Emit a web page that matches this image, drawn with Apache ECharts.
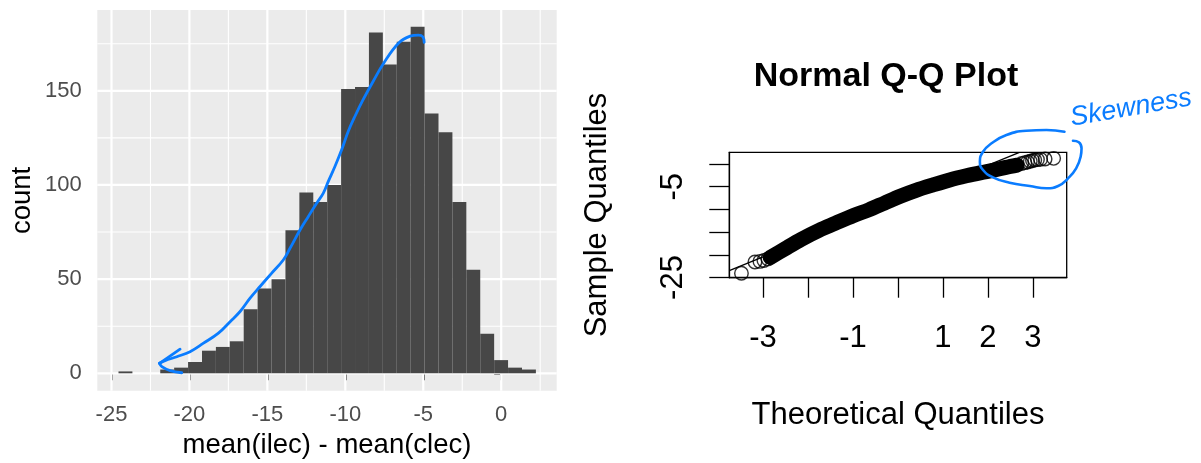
<!DOCTYPE html>
<html><head><meta charset="utf-8">
<script src="https://cdn.jsdelivr.net/npm/echarts@6/dist/echarts.min.js"></script>
<style>html,body{margin:0;padding:0;background:#fff}#c{width:1201px;height:463px}</style>
</head><body><div id="c"></div>
<script>
// ---------- Histogram data ----------
const binStart = -24.55;
const binWidth = 0.8925;
const binCounts = [1,0,0,2,3,6,12,14,17,34,45,50,76,96,91,100,151,152,181,164,176,184,138,128,91,55,21,7,3,2];
const histXTicks = [-25,-20,-15,-10,-5,0];
const histXMinor = [-22.5,-17.5,-12.5,-7.5,-2.5,2.5];
const histYTicks = [0,50,100,150];
const histYMinor = [25,75,125,175];

// hand-drawn annotation on histogram (data coordinates)
const annoCurveX = [-4.94,-5.03,-5.31,-5.84,-6.59,-7.55,-8.21,-8.85,-9.38,-9.81,-10.23,-10.66,-11.09,-11.41,-11.83,-12.37,-12.90,-13.54,-13.97,-14.72,-15.47,-16.11,-16.75,-17.39,-18.14,-19.10,-19.96,-20.81,-21.56,-21.92];
const annoCurveY = [175.7,178.7,179.6,179.0,175.2,164.5,155.1,145.4,136.5,128.5,118.8,109.9,101.9,95.7,90.4,83.3,76.2,66.5,60.3,53.2,46.1,39.9,32.8,27.4,21.3,16.0,11.5,8.8,6.7,5.3];
const annoTailX = [-21.92,-21.77,-21.24,-20.49];
const annoTailY = [5.3,3.5,1.4,0.3];
const annoHeadX = [-21.92,-20.6];
const annoHeadY = [5.3,12.8];

// ---------- Normal Q-Q plot data ----------
const qqBandX = [-2.84,-2.5,-2.15,-1.75,-1.4,-1.0,-0.65,-0.3,0.05,0.4,0.78,1.15,1.52,1.85,2.11,2.4,2.65];
const qqBandY = [-20.6,-18.6,-16.6,-14.6,-13.1,-11.4,-10.1,-8.6,-7.1,-5.8,-4.6,-3.5,-2.6,-1.9,-1.4,-0.75,-0.25];
const qqTailX = [-3.48,-3.18,-3.07,-2.98,-2.89,2.75,2.82,2.88,2.94,2.99,3.04,3.10,3.17,3.27,3.46];
const qqTailY = [-24.07,-21.6,-21.45,-21.25,-20.9,0.1,0.3,0.45,0.6,0.75,0.88,0.97,1.03,1.10,1.25];
const qqLineX = [-3.75,2.70];
const qqLineY = [-23.5,2.58];
const qqXTicks = [-3,-2,-1,0,1,2,3];
const qqXLabels = [-3,-1,1,2,3];
const qqYTicks = [-25,-20,-15,-10,-5,0];
const qqYLabels = [-25,-5];

// hand-drawn ellipse on Q-Q plot (Q-Q data coordinates)
const annoEllX = [3.70,3.30,2.85,2.41,2.08,1.89,1.82,1.89,2.11,2.48,2.93,3.30,3.56,3.78,3.96,4.06,4.08,4.02,3.89];
const annoEllY = [7.11,7.49,7.33,6.39,4.56,2.71,0.51,-1.32,-2.93,-4.12,-4.85,-5.35,-4.85,-3.15,-0.95,1.61,3.46,4.78,5.13];

const FONT = 'Liberation Sans';
const BLUE = '#0A7CFF';
const zip = (a, b) => a.map((v, i) => [v, b[i]]);

// Q-Q plot region and ranges
const QQ = {left: 729.3, top: 152.3, width: 337.4, height: 125.4, xmin: -3.75, xmax: 3.75, ymin: -25.05, ymax: 2.58};
// overlay (same scale as the Q-Q axes, larger extent) so the hand-drawn ellipse can leave the box
const OV = {xmax: 4.5, ymax: 8.5};
const pxX = QQ.width / (QQ.xmax - QQ.xmin);
const pxY = QQ.height / (QQ.ymax - QQ.ymin);
const ovWidth = (OV.xmax - QQ.xmin) * pxX;
const ovHeight = (OV.ymax - QQ.ymin) * pxY;
const ovTop = QQ.top + QQ.height - ovHeight;

const chart = echarts.init(document.getElementById('c'), null, {renderer: 'canvas'});

function vRender(color, width) {
  return function (params, api) {
    const x = api.coord([api.value(0), api.value(1)])[0];
    const cs = params.coordSys;
    return {type: 'line', shape: {x1: x, y1: cs.y, x2: x, y2: cs.y + cs.height}, style: {stroke: color, lineWidth: width}};
  };
}
function hRender(color, width) {
  return function (params, api) {
    const y = api.coord([api.value(0), api.value(1)])[1];
    const cs = params.coordSys;
    return {type: 'line', shape: {x1: cs.x, y1: y, x2: cs.x + cs.width, y2: y}, style: {stroke: color, lineWidth: width}};
  };
}

const histBars = binCounts.map((c, i) => [binStart + i * binWidth, binStart + (i + 1) * binWidth, c]);

const option = {
  animation: false,
  textStyle: {fontFamily: FONT},
  grid: [
    {left: 97.3, top: 10, width: 459.4, height: 380.7, show: true, backgroundColor: '#EBEBEB', borderWidth: 0, containLabel: false, outerBoundsMode: 'none'},
    {left: QQ.left, top: QQ.top, width: QQ.width, height: QQ.height, show: true, backgroundColor: 'transparent', borderColor: '#000', borderWidth: 1.3, containLabel: false, outerBoundsMode: 'none'},
    {left: QQ.left, top: ovTop, width: ovWidth, height: ovHeight, show: false, containLabel: false, outerBoundsMode: 'none'}
  ],
  xAxis: [
    {type: 'value', gridIndex: 0, min: -25.91, max: 3.56,
     axisLine: {show: false},
     axisTick: {show: true, length: 7, customValues: histXTicks, lineStyle: {color: '#333333', width: 2}},
     axisLabel: {show: true, customValues: histXTicks, margin: 13, color: '#4D4D4D', fontSize: 22, fontFamily: FONT},
     splitLine: {show: false}},
    {type: 'value', gridIndex: 1, min: QQ.xmin, max: QQ.xmax,
     axisLine: {show: true, onZero: false, lineStyle: {color: '#000', width: 1.3}},
     axisTick: {show: true, length: 20, customValues: qqXTicks, lineStyle: {color: '#000', width: 1.3}},
     axisLabel: {show: true, customValues: qqXLabels, margin: 45, color: '#000', fontSize: 31, fontFamily: FONT},
     splitLine: {show: false}},
    {type: 'value', gridIndex: 2, min: QQ.xmin, max: OV.xmax, show: false, splitLine: {show: false}}
  ],
  yAxis: [
    {type: 'value', gridIndex: 0, min: -9.24, max: 192.9,
     axisLine: {show: false},
     axisTick: {show: true, length: 7, customValues: histYTicks, lineStyle: {color: '#333333', width: 2}},
     axisLabel: {show: true, customValues: histYTicks, margin: 15.6, color: '#4D4D4D', fontSize: 22, fontFamily: FONT},
     splitLine: {show: false}},
    {type: 'value', gridIndex: 1, min: QQ.ymin, max: QQ.ymax,
     axisLine: {show: true, onZero: false, lineStyle: {color: '#000', width: 1.3}},
     axisTick: {show: true, length: 20, customValues: qqYTicks, lineStyle: {color: '#000', width: 1.3}},
     axisLabel: {show: true, customValues: qqYLabels, rotate: 90, margin: 40, color: '#000', fontSize: 31, fontFamily: FONT},
     splitLine: {show: false}},
    {type: 'value', gridIndex: 2, min: QQ.ymin, max: OV.ymax, show: false, splitLine: {show: false}}
  ],
  series: [
    {type: 'custom', xAxisIndex: 0, yAxisIndex: 0, z: 1, silent: true, renderItem: vRender('#FFFFFF', 1.1), data: histXMinor.map(v => [v, 0])},
    {type: 'custom', xAxisIndex: 0, yAxisIndex: 0, z: 1, silent: true, renderItem: hRender('#FFFFFF', 1.1), data: histYMinor.map(v => [-10, v])},
    {type: 'custom', xAxisIndex: 0, yAxisIndex: 0, z: 1, silent: true, renderItem: vRender('#FFFFFF', 2.2), data: histXTicks.map(v => [v, 0])},
    {type: 'custom', xAxisIndex: 0, yAxisIndex: 0, z: 1, silent: true, renderItem: hRender('#FFFFFF', 2.2), data: histYTicks.map(v => [-10, v])},
    {type: 'custom', xAxisIndex: 0, yAxisIndex: 0, z: 2, silent: true,
     encode: {x: [0, 1], y: 2},
     renderItem: function (params, api) {
       const p0 = api.coord([api.value(0), api.value(2)]);
       const p1 = api.coord([api.value(1), 0]);
       return {type: 'rect', shape: {x: p0[0], y: p0[1], width: p1[0] - p0[0], height: p1[1] - p0[1]}, style: {fill: '#474747'}};
     },
     data: histBars},
    {type: 'line', xAxisIndex: 0, yAxisIndex: 0, z: 5, silent: true, smooth: 0.4, symbol: 'none', clip: false,
     lineStyle: {color: BLUE, width: 2.8, cap: 'round', join: 'round'}, data: zip(annoCurveX, annoCurveY)},
    {type: 'line', xAxisIndex: 0, yAxisIndex: 0, z: 5, silent: true, smooth: 0.4, symbol: 'none', clip: false,
     lineStyle: {color: BLUE, width: 2.8, cap: 'round', join: 'round'}, data: zip(annoTailX, annoTailY)},
    {type: 'line', xAxisIndex: 0, yAxisIndex: 0, z: 5, silent: true, symbol: 'none', clip: false,
     lineStyle: {color: BLUE, width: 2.8, cap: 'round', join: 'round'}, data: zip(annoHeadX, annoHeadY)},

    {type: 'line', xAxisIndex: 1, yAxisIndex: 1, z: 3, silent: true, symbol: 'none', clip: true,
     lineStyle: {color: '#000', width: 1.3}, data: zip(qqLineX, qqLineY)},
    {type: 'line', xAxisIndex: 1, yAxisIndex: 1, z: 3, silent: true, symbol: 'none', smooth: 0.3, clip: false,
     lineStyle: {color: '#000', width: 15, cap: 'round', join: 'round'}, data: zip(qqBandX, qqBandY)},
    {type: 'scatter', xAxisIndex: 1, yAxisIndex: 1, z: 4, silent: true, symbol: 'circle', symbolSize: 13.5, clip: false,
     itemStyle: {color: 'rgba(0,0,0,0)', borderColor: '#000', borderWidth: 1.4}, data: zip(qqTailX, qqTailY)},
    {type: 'line', xAxisIndex: 2, yAxisIndex: 2, z: 6, silent: true, symbol: 'none', smooth: 0.5, clip: false,
     lineStyle: {color: BLUE, width: 2.6, cap: 'round', join: 'round'}, data: zip(annoEllX, annoEllY)}
  ],
  graphic: [
    {type: 'text', x: 22, y: 200.4, rotation: Math.PI / 2, z: 10, silent: true,
     style: {text: 'count', fontSize: 27.5, fontFamily: FONT, fill: '#000', align: 'center', verticalAlign: 'middle'}},
    {type: 'text', x: 327, y: 445, z: 10, silent: true,
     style: {text: 'mean(ilec) - mean(clec)', fontSize: 27.5, fontFamily: FONT, fill: '#000', align: 'center', verticalAlign: 'middle'}},
    {type: 'text', x: 886, y: 76.5, z: 10, silent: true,
     style: {text: 'Normal Q-Q Plot', fontSize: 34, fontWeight: 'bold', fontFamily: FONT, fill: '#000', align: 'center', verticalAlign: 'middle'}},
    {type: 'text', x: 597, y: 215, rotation: Math.PI / 2, z: 10, silent: true,
     style: {text: 'Sample Quantiles', fontSize: 31, fontFamily: FONT, fill: '#000', align: 'center', verticalAlign: 'middle'}},
    {type: 'text', x: 898, y: 415, z: 10, silent: true,
     style: {text: 'Theoretical Quantiles', fontSize: 31, fontFamily: FONT, fill: '#000', align: 'center', verticalAlign: 'middle'}},
    {type: 'text', x: 1131, y: 108, rotation: 0.17, z: 10, silent: true,
     style: {text: 'Skewness', fontSize: 27, fontStyle: 'italic', fontFamily: FONT, fill: BLUE, align: 'center', verticalAlign: 'middle'}}
  ]
};
chart.setOption(option);
</script>
</body></html>
